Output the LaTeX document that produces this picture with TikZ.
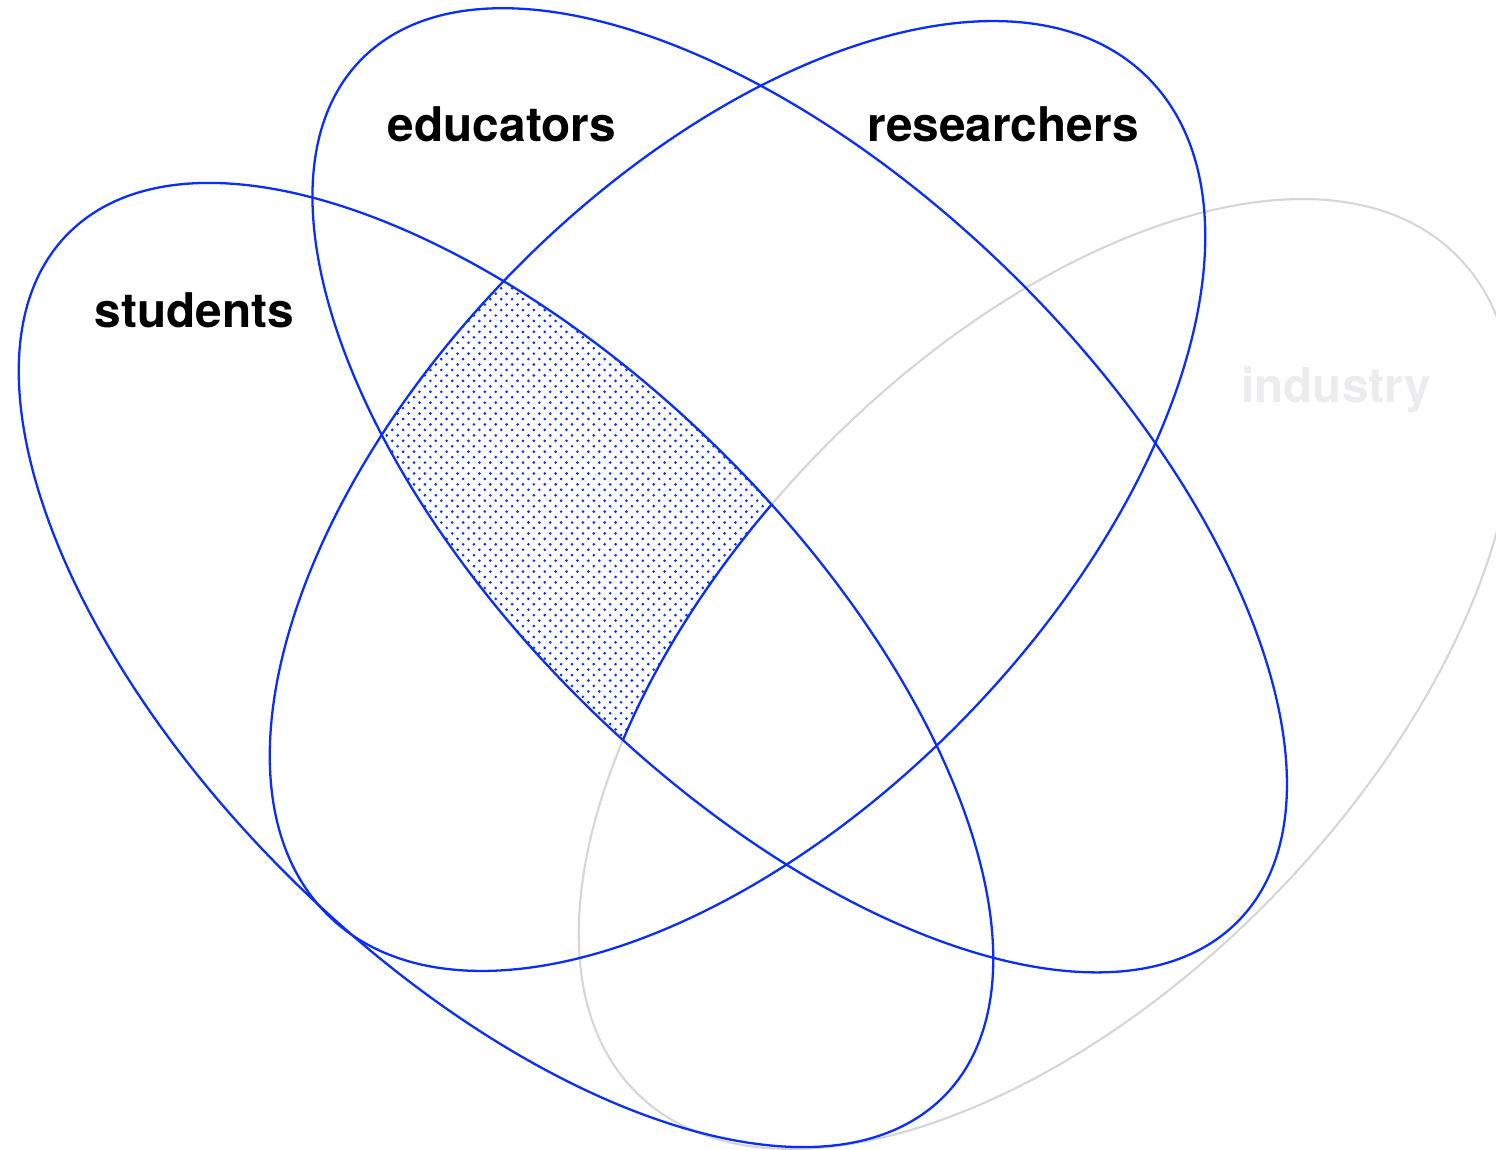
\documentclass[tikz,border=0pt]{standalone}
\usepackage{fontspec}
\setmainfont{TeX Gyre Heros}
\usepackage{tikz}
\usetikzlibrary{patterns}

\definecolor{setblue}{RGB}{10,45,255}
\definecolor{setgray}{RGB}{214,214,214}
\definecolor{labelgray}{RGB}{236,236,238}

\pgfdeclarepatternformonly{finedots}{\pgfqpoint{-1pt}{-1pt}}{\pgfqpoint{4pt}{4pt}}{\pgfqpoint{3.1pt}{3.1pt}}{%
  \pgfpathcircle{\pgfqpoint{0pt}{0pt}}{.42pt}
  \pgfpathcircle{\pgfqpoint{1.55pt}{1.55pt}}{.42pt}
  \pgfusepath{fill}}

\newcommand{\studentsset}{(5.06,-6.65) ellipse [x radius=6.147, y radius=3.03, rotate=-44.5]}
\newcommand{\educatorsset}{(7.997,-4.903) ellipse [x radius=6.147, y radius=3.03, rotate=-44.5]}
\newcommand{\researchersset}{(7.375,-4.96) ellipse [x radius=5.86, y radius=3.175, rotate=45.8]}
\newcommand{\industryset}{(10.465,-6.74) ellipse [x radius=5.86, y radius=3.175, rotate=45.8]}

\begin{document}
\begin{tikzpicture}[setline/.style={draw=setblue, line width=.65pt},
  label/.style={font=\fontsize{13.6}{16}\selectfont\bfseries, anchor=base}]
\useasboundingbox (0,0) rectangle (14.96,-11.49);
% industry in the back
\draw[setgray, line width=.6pt] \industryset;
% students, educators and researchers, but not industry
\begin{scope}
\clip \studentsset;
\clip \educatorsset;
\clip \researchersset;
\fill[pattern=finedots, pattern color=setblue, even odd rule] (0,0) rectangle (14.96,-11.49) \industryset;
\draw[setline] \industryset;
\end{scope}
\draw[setline] \studentsset;
\draw[setline] \educatorsset;
\draw[setline] \researchersset;
\node[label] (students) at (1.945,-3.27) {students};
\node[label] (educators) at (5.02,-1.417) {educators};
\node[label] (researchers) at (10.03,-1.417) {researchers};
\node[label, text=labelgray] (industry) at (13.36,-4.027) {industry};
\end{tikzpicture}
\end{document}
